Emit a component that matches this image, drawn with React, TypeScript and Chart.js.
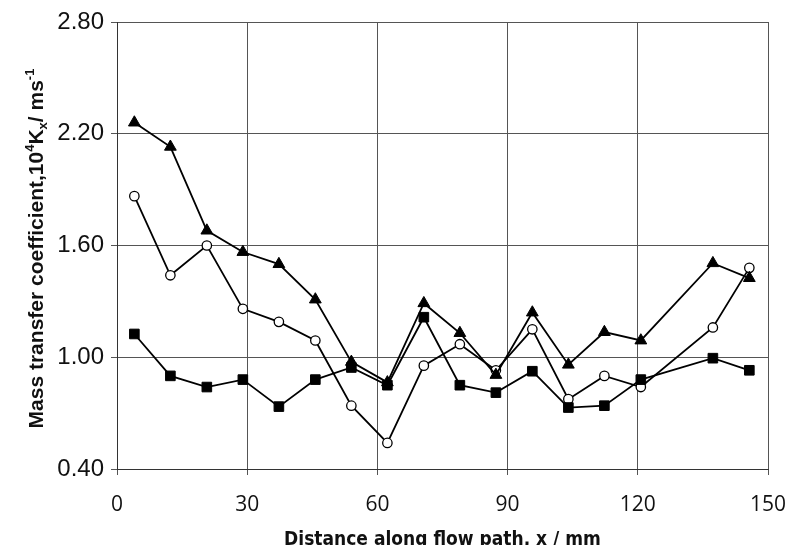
import React, { useEffect, useRef } from 'react';
import { Chart, registerables } from 'chart.js';

Chart.register(...registerables);

// Distance along flow path, x / mm
const xPositions = [4, 12.3, 20.7, 29, 37.3, 45.7, 54, 62.3, 70.7, 79, 87.3, 95.7, 104, 112.3, 120.7, 137.3, 145.7];
// Mass transfer coefficient series (10^4 Kx / m s^-1)
const triangleValues = [2.26, 2.13, 1.68, 1.565, 1.5, 1.31, 0.975, 0.865, 1.29, 1.13, 0.905, 1.24, 0.96, 1.135, 1.09, 1.505, 1.425];
const circleValues = [1.865, 1.44, 1.6, 1.26, 1.19, 1.09, 0.74, 0.54, 0.955, 1.07, 0.93, 1.15, 0.775, 0.9, 0.84, 1.16, 1.48];
const squareValues = [1.125, 0.9, 0.84, 0.88, 0.735, 0.88, 0.945, 0.85, 1.215, 0.85, 0.81, 0.925, 0.73, 0.74, 0.88, 0.995, 0.93];

const xTickValues = [0, 30, 60, 90, 120, 150];
const yTickLabels = ['0.40', '1.00', '1.60', '2.20', '2.80'];

const xTitle = 'Distance along flow path, x / mm';
const yTitleParts = [
  { text: 'Mass transfer coefficient,10', kind: 'normal' },
  { text: '4', kind: 'sup' },
  { text: 'K', kind: 'normal' },
  { text: 'x', kind: 'sub' },
  { text: '/ ms', kind: 'normal' },
  { text: '-1', kind: 'sup' },
];

const toPoints = (vals: number[]) => vals.map((v, i) => ({ x: xPositions[i], y: v }));

const yTitlePlugin = {
  id: 'yTitleRich',
  afterDraw(chart: any) {
    const ctx = chart.ctx;
    const size = 21;
    const small = 13;
    const fam = "'Liberation Sans', Arial, sans-serif";
    ctx.save();
    ctx.fillStyle = '#111';
    ctx.textBaseline = 'alphabetic';
    ctx.textAlign = 'left';
    const fontFor = (k: string) => `bold ${k === 'normal' ? size : small}px ${fam}`;
    let total = 0;
    for (const p of yTitleParts) {
      ctx.font = fontFor(p.kind);
      total += ctx.measureText(p.text).width;
    }
    const cy = (chart.chartArea.top + chart.chartArea.bottom) / 2 + 3;
    ctx.translate(43, cy);
    ctx.rotate(-Math.PI / 2);
    let x = -total / 2;
    for (const p of yTitleParts) {
      ctx.font = fontFor(p.kind);
      const dy = p.kind === 'sup' ? -9 : p.kind === 'sub' ? 4 : 0;
      ctx.fillText(p.text, x, dy);
      x += ctx.measureText(p.text).width;
    }
    ctx.restore();
  },
};

export default function App() {
  const ref = useRef<HTMLCanvasElement | null>(null);

  useEffect(() => {
    document.body.style.margin = '0';
    if (!ref.current) return;
    const gridColor = '#555';
    const lineStyle = { borderColor: '#000', borderWidth: 1.8, showLine: true, fill: false, tension: 0 };
    const chart = new Chart(ref.current, {
      type: 'scatter',
      data: {
        datasets: [
          {
            label: 'triangles',
            data: toPoints(triangleValues),
            pointStyle: 'triangle',
            pointRadius: 6.8,
            pointBackgroundColor: '#000',
            pointBorderColor: '#000',
            pointBorderWidth: 1,
            ...lineStyle,
          },
          {
            label: 'squares',
            data: toPoints(squareValues),
            pointStyle: 'rect',
            pointRadius: 6.8,
            pointBackgroundColor: '#000',
            pointBorderColor: '#000',
            pointBorderWidth: 1,
            ...lineStyle,
          },
          {
            label: 'circles',
            data: toPoints(circleValues),
            pointStyle: 'circle',
            pointRadius: 4.7,
            pointBackgroundColor: '#fff',
            pointBorderColor: '#000',
            pointBorderWidth: 1.3,
            ...lineStyle,
          },
        ],
      },
      options: {
        animation: false,
        responsive: false,
        devicePixelRatio: 1,
        layout: { padding: { left: 0, right: 24, top: 22, bottom: 0 } },
        plugins: { legend: { display: false }, tooltip: { enabled: false } },
        scales: {
          x: {
            type: 'linear',
            min: 0,
            max: 150,
            afterFit: (s: any) => { s.height = 76; s.paddingLeft = 0; s.paddingRight = 0; },
            afterBuildTicks: (s: any) => { s.ticks = xTickValues.map((v) => ({ value: v })); },
            ticks: {
              padding: 17,
              color: '#111',
              font: { family: "'Open Sans', 'DejaVu Sans', sans-serif", size: 21 },
              callback: (v: any) => String(v),
            },
            grid: { color: gridColor, lineWidth: 1, tickLength: 6 },
            border: { display: true, color: '#333', width: 1 },
            title: {
              display: true,
              text: xTitle,
              color: '#111',
              padding: 0,
              font: { family: "'DejaVu Sans Condensed', 'Liberation Sans', sans-serif", size: 19, weight: 'bold', lineHeight: 0.5 },
            },
          },
          y: {
            type: 'linear',
            min: 0.4,
            max: 2.8,
            afterFit: (s: any) => { s.width = 117; },
            afterBuildTicks: (s: any) => { s.ticks = yTickLabels.map((t) => ({ value: parseFloat(t) })); },
            ticks: {
              padding: 7,
              color: '#111',
              font: { family: "'Liberation Sans', Arial, sans-serif", size: 24 },
              callback: (v: any) => {
                const hit = yTickLabels.find((t) => Math.abs(parseFloat(t) - v) < 1e-6);
                return hit ?? '';
              },
            },
            grid: { color: gridColor, lineWidth: 1, tickLength: 6 },
            border: { display: true, color: '#333', width: 1 },
          },
        },
      },
      plugins: [yTitlePlugin],
    } as any);
    return () => chart.destroy();
  }, []);

  return (
    <div style={{ position: 'fixed', left: 0, top: 0, width: 792, height: 545, background: '#fff' }}>
      <canvas ref={ref} width={792} height={545} />
    </div>
  );
}
